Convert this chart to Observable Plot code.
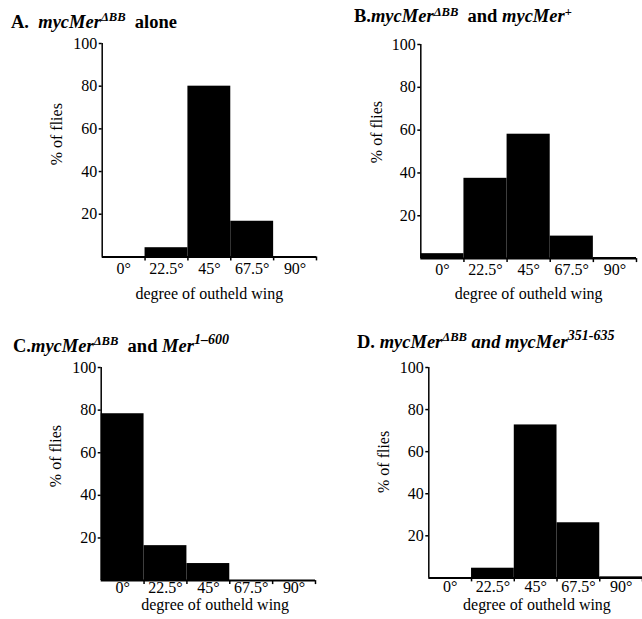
<!DOCTYPE html>
<html>
<head>
<meta charset="utf-8">
<script src="https://cdn.jsdelivr.net/npm/d3@7"></script>
<script src="https://cdn.jsdelivr.net/npm/@observablehq/plot@0.6"></script>
<style>
  html, body { margin: 0; padding: 0; background: #fff; overflow: hidden; }
  #root { position: relative; width: 642px; height: 619px; }
  .title { position: absolute; white-space: nowrap; font-family: "Liberation Serif", "Times New Roman", serif;
           font-weight: bold; font-size: 18.5px; line-height: 18.5px; color: #000; }
  .title sup { font-size: 0.68em; line-height: 0; vertical-align: baseline; position: relative; top: -0.5em; }
  .title sup.big { font-size: 0.76em; }
  .panel { position: absolute; }
  .panel svg { overflow: visible; max-width: none !important; background: transparent !important;
               font-family: "Liberation Serif", "Times New Roman", serif !important; }
  .panel svg text { font-family: "Liberation Serif", "Times New Roman", serif !important; }
</style>
</head>
<body>
<div id="root"></div>
<script>
// ---- data ----
const degrees = [0, 22.5, 45, 67.5, 90];
const tickLabels = ["0°", "22.5°", "45°", "67.5°", "90°"];
const yTicks = [20, 40, 60, 80, 100];
const pctA = [0, 4.3, 80, 16.7, 0];
const pctB = [2.3, 37.5, 58.1, 10.5, 0.5];
const pctC = [78.3, 16.4, 8.0, 0, 0];
const pctD = [0, 4.6, 72.7, 26.2, 0.5];
const xLabel = "degree of outheld wing";
const yLabel = "% of flies";
const titles = [
  '<b>A.&nbsp; <i>mycMer<sup>ΔBB</sup></i>&nbsp; alone</b>',
  '<b>B.<i>mycMer<sup>ΔBB</sup></i>&nbsp; and <i>mycMer</i><sup>+</sup></b>',
  '<b>C.<i>mycMer<sup>ΔBB</sup></i>&nbsp; and <i>Mer<sup class="big">1–600</sup></i></b>',
  '<b>D. <i>mycMer<sup>ΔBB</sup> and mycMer<sup class="big">351-635</sup></i></b>'
];
const series = [pctA, pctB, pctC, pctD];

// ---- layout ----
const layouts = [
  {sl: 0,   fl: 101.7, fr: 316,   ft: 43.3,  fb: 256.7, tp: 5.5, xdx: 0,   xdy: 36.6, ydx: -45.7, ydy: -16,   tx: 11,  tt: 12.5},
  {sl: 321, fl: 420.3, fr: 636,   ft: 43.5,  fb: 257.6, tp: 4.6, xdx: 0,   xdy: 35.4, ydx: -43.5, ydy: -19.5, tx: 354, tt: 7},
  {sl: 0,   fl: 100.7, fr: 315,   ft: 367.3, fb: 580.4, tp: 1.5, xdx: 6.8, xdy: 24.5, ydx: -45.7, ydy: -18,   tx: 13,  tt: 336.5},
  {sl: 321, fl: 428.3, fr: 642,   ft: 367.3, fb: 577.7, tp: 3.0, xdx: 1.3, xdy: 26.5, ydx: -44.5, ydy: -10.8, tx: 357, tt: 332.5}
];

const root = document.getElementById("root");
const font = '"Liberation Serif", "Times New Roman", serif';

series.forEach((vals, k) => {
  const L = layouts[k];
  const rows = degrees.map((deg, i) => ({deg, pct: vals[i]}));
  const mt = 10, mb = 50, width = 321;
  const height = mt + (L.fb - L.ft) + mb;
  const chart = Plot.plot({
    width, height,
    marginLeft: L.fl - L.sl,
    marginRight: L.sl + width - L.fr,
    marginTop: mt, marginBottom: mb,
    style: {fontFamily: font, fontSize: "16px", color: "#000", background: "transparent"},
    x: {domain: [-11.25, 101.25]},
    y: {domain: [0, 100]},
    marks: [
      Plot.rectY(rows, {x1: d => d.deg - 11.25, x2: d => d.deg + 11.25, y: "pct", fill: "#000"}),
      Plot.ruleY([0], {stroke: "#000", strokeWidth: 2}),
      Plot.ruleX([-11.25], {stroke: "#000", strokeWidth: 1.5}),
      Plot.axisY({ticks: yTicks, tickSize: 3, tickPadding: 2, label: null, fontSize: 16, strokeWidth: 1.5}),
      Plot.axisX({ticks: degrees, tickSize: 0, tickPadding: L.tp, label: null, fontSize: 16,
                  tickFormat: d => tickLabels[degrees.indexOf(d)]}),
      Plot.axisX({ticks: degrees.map(d => d + 11.25), tickSize: 4, tickFormat: () => "", label: null, strokeWidth: 1.5}),
      Plot.text([xLabel], {frameAnchor: "bottom", lineAnchor: "middle", textAnchor: "middle",
                           dx: L.xdx, dy: L.xdy, fontSize: 16, fill: "#000"}),
      Plot.text([yLabel], {frameAnchor: "left", lineAnchor: "middle", textAnchor: "middle", rotate: -90,
                           dx: L.ydx, dy: L.ydy, fontSize: 16, fill: "#000"})
    ]
  });
  const wrap = document.createElement("div");
  wrap.className = "panel";
  wrap.style.left = L.sl + "px";
  wrap.style.top = (L.ft - mt) + "px";
  wrap.appendChild(chart);
  root.appendChild(wrap);

  const t = document.createElement("div");
  t.className = "title";
  t.style.left = L.tx + "px";
  t.style.top = L.tt + "px";
  t.innerHTML = titles[k];
  root.appendChild(t);
});
</script>
</body>
</html>
